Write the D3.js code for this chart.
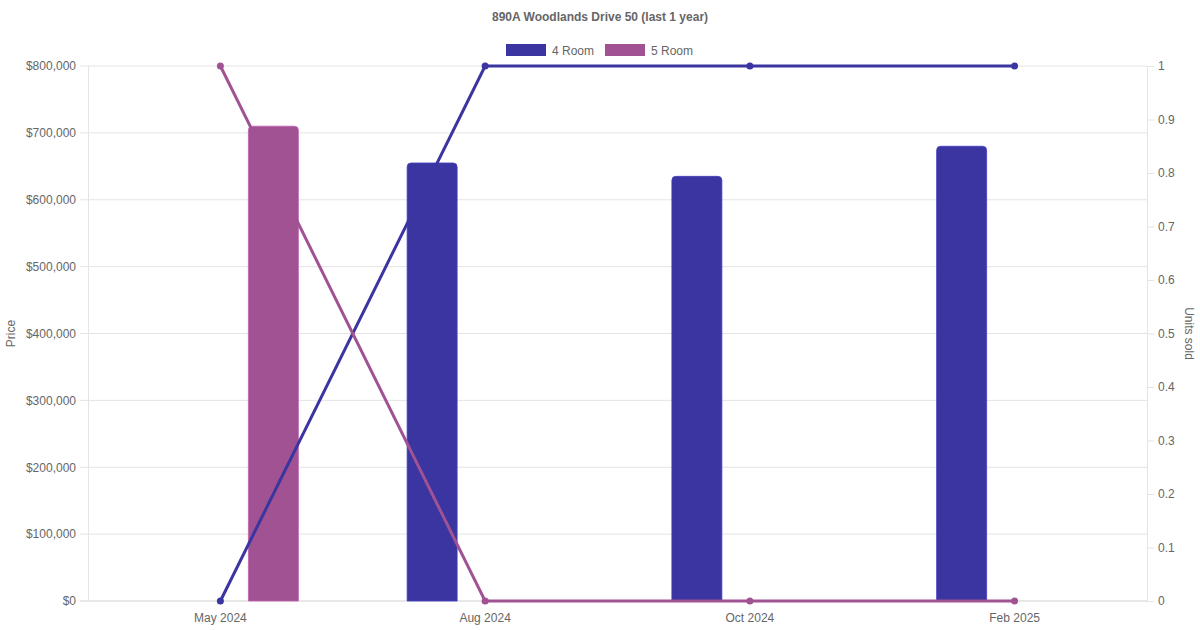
<!DOCTYPE html>
<html>
<head>
<meta charset="utf-8">
<script src="https://cdn.jsdelivr.net/npm/d3@7"></script>
<style>
  body { margin: 0; background: #fff; }
  svg { font-family: "Liberation Sans", Arial, sans-serif; }
</style>
</head>
<body>
<script>
const w = 1200;
const h = 630;

// data
const months = ["May 2024", "Aug 2024", "Oct 2024", "Feb 2025"];
const series = ["4 Room", "5 Room"];
const colors = ["#3a35a0", "#a05293"];
const price4 = [null, 655000, 635000, 680000];
const price5 = [710000, null, null, null];
const units4 = [0, 1, 1, 1];
const units5 = [1, 0, 0, 0];
const priceTicks = [0, 100000, 200000, 300000, 400000, 500000, 600000, 700000, 800000];
const unitTicks = [0, 0.1, 0.2, 0.3, 0.4, 0.5, 0.6, 0.7, 0.8, 0.9, 1];

const pLeft = 88, pRight = 1147, pTop = 66, pBottom = 601;

let svg = d3.select("body")
  .append("svg")
    .attr("width", w)
    .attr("height", h);

let x = d3.scaleBand().domain(months).range([pLeft, pRight]);
let xg = d3.scaleBand().domain(series).range([-106, 106]); // group offsets
let yP = d3.scaleLinear().domain([0, 800000]).range([pBottom, pTop]);
let yU = d3.scaleLinear().domain([0, 1]).range([pBottom, pTop]);

// grid
svg.append("g")
  .selectAll("line")
  .data(priceTicks)
  .enter().append("line")
    .attr("x1", pLeft - 8).attr("x2", pRight)
    .attr("y1", d => yP(d)).attr("y2", d => yP(d))
    .attr("stroke", d => d === 0 ? "#cfcfcf" : "#e4e4e4")
    .attr("stroke-width", 1);

// left axis
let axL = svg.append("g")
  .attr("transform", "translate(" + pLeft + ",0)")
  .call(d3.axisLeft(yP).tickValues(priceTicks).tickSize(0).tickPadding(12)
    .tickFormat(d => "$" + d3.format(",")(d)));
axL.select(".domain").attr("stroke", "#e4e4e4");
axL.selectAll("text").attr("fill", "#666").attr("font-size", 12)
  .attr("font-family", "Liberation Sans, Arial, sans-serif");

// right axis
let axR = svg.append("g")
  .attr("transform", "translate(" + pRight + ",0)")
  .call(d3.axisRight(yU).tickValues(unitTicks).tickSize(7).tickPadding(4)
    .tickFormat(d => d3.format("")(+d.toFixed(1))));
axR.select(".domain").attr("stroke", "#e4e4e4");
axR.selectAll(".tick line").attr("stroke", "#e4e4e4");
axR.selectAll("text").attr("fill", "#666").attr("font-size", 12)
  .attr("font-family", "Liberation Sans, Arial, sans-serif");

// bottom axis labels
let axB = svg.append("g")
  .attr("transform", "translate(0," + pBottom + ")")
  .call(d3.axisBottom(x).tickSize(0).tickPadding(12));
axB.select(".domain").remove();
axB.selectAll("text").attr("fill", "#666").attr("font-size", 12)
  .attr("font-family", "Liberation Sans, Arial, sans-serif");

// axis titles
svg.append("text")
  .attr("transform", "translate(15," + (pTop + pBottom) / 2 + ") rotate(-90)")
  .attr("text-anchor", "middle")
  .attr("fill", "#666").attr("font-size", 12)
  .text("Price");
svg.append("text")
  .attr("transform", "translate(1185," + (pTop + pBottom) / 2 + ") rotate(90)")
  .attr("text-anchor", "middle")
  .attr("fill", "#666").attr("font-size", 12)
  .text("Units sold");

// bars
function barPath(x0, y0, bw, y1, r) {
  return "M" + x0 + "," + y1 +
    "V" + (y0 + r) +
    "Q" + x0 + "," + y0 + " " + (x0 + r) + "," + y0 +
    "H" + (x0 + bw - r) +
    "Q" + (x0 + bw) + "," + y0 + " " + (x0 + bw) + "," + (y0 + r) +
    "V" + y1 + "Z";
}
const barW = 50;
[price4, price5].forEach((p, k) => {
  svg.append("g").selectAll("path")
    .data(p.map((v, i) => ({ v: v, m: months[i] })).filter(d => d.v !== null))
    .enter().append("path")
      .attr("d", d => {
        let cx = x(d.m) + x.bandwidth() / 2 + xg(series[k]) + xg.bandwidth() / 2;
        return barPath(cx - barW / 2, yP(d.v), barW, yP(0), 4);
      })
      .attr("fill", colors[k])
      .attr("stroke", d3.color(colors[k]).brighter(0.5))
      .attr("stroke-width", 0.8);
});

// lines (drawn over bars)
let line = d3.line()
  .x((d, i) => x(months[i]) + x.bandwidth() / 2)
  .y(d => yU(d));

[units4, units5].forEach((u, k) => {
  svg.append("path")
    .datum(u)
    .attr("d", line)
    .attr("fill", "none")
    .attr("stroke", colors[k])
    .attr("stroke-width", 3);
  svg.append("g").selectAll("circle")
    .data(u)
    .enter().append("circle")
      .attr("cx", (d, i) => x(months[i]) + x.bandwidth() / 2)
      .attr("cy", d => yU(d))
      .attr("r", 3.5)
      .attr("fill", colors[k]);
});

// title
svg.append("text")
  .attr("x", w / 2).attr("y", 21)
  .attr("text-anchor", "middle")
  .attr("fill", "#666").attr("font-size", 12).attr("font-weight", "bold")
  .text("890A Woodlands Drive 50 (last 1 year)");

// legend
const legX = [506, 605];
series.forEach((s, k) => {
  svg.append("rect")
    .attr("x", legX[k]).attr("y", 44)
    .attr("width", 40).attr("height", 12)
    .attr("fill", colors[k]);
  svg.append("text")
    .attr("x", legX[k] + 46).attr("y", 54.5)
    .attr("fill", "#666").attr("font-size", 12)
    .text(s);
});
</script>
</body>
</html>
